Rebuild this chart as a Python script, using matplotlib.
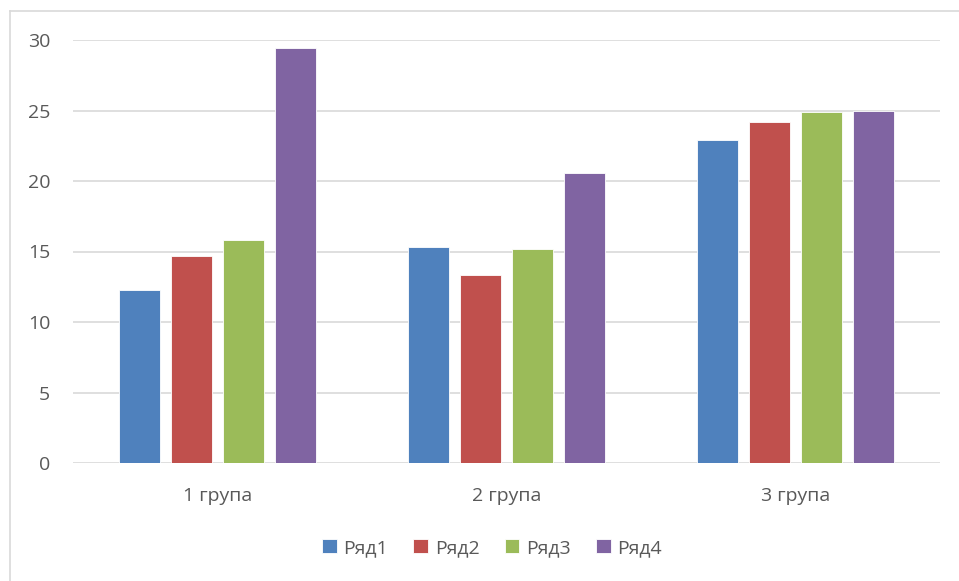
import numpy as np
import matplotlib.pyplot as plt
from matplotlib.lines import Line2D

# дані з діаграми
groups = ['1 група', '2 група', '3 група']
series = ['Ряд1', 'Ряд2', 'Ряд3', 'Ряд4']
vals_1 = [12.3, 15.3, 22.9]
vals_2 = [14.7, 13.3, 24.2]
vals_3 = [15.8, 15.2, 24.9]
vals_4 = [29.4, 20.6, 25.0]
colors = ['#4F81BD', '#C0504D', '#9BBB59', '#8064A2']

plt.rcParams['font.family'] = ['Open Sans', 'DejaVu Sans']
txt = '#595959'

fig = plt.figure(figsize=(9.59, 5.81), dpi=100)
ax = fig.add_axes([73 / 959, 1 - 463 / 581, 867 / 959, 423 / 581])

x = np.arange(len(groups))
bw = 0.142
step = 0.18
all_vals = [vals_1, vals_2, vals_3, vals_4]
for i, (name, v) in enumerate(zip(series, all_vals)):
    off = (i - 1.5) * step
    ax.bar(x + off, v, bw, color=colors[i], label=name,
           edgecolor='white', linewidth=0.6, zorder=3)

ax.set_xlim(-0.5, 2.5)
ax.set_ylim(0, 30)
ax.set_yticks(range(0, 31, 5))
ax.yaxis.grid(True, color='#D9D9D9', linewidth=1.2, zorder=0)
ax.set_xticks(x)
ax.set_xticklabels(groups)
for s in ax.spines.values():
    s.set_visible(False)
ax.tick_params(axis='both', length=0, colors=txt, labelsize=14)
ax.tick_params(axis='y', pad=16.5)
ax.tick_params(axis='x', pad=17)

# рамка діаграми
fig.add_artist(Line2D([9.5 / 959, 9.5 / 959], [0, 1 - 10.5 / 581],
                      color='#D9D9D9', linewidth=1.2))
fig.add_artist(Line2D([9.5 / 959, 1], [1 - 10.5 / 581, 1 - 10.5 / 581],
                      color='#D9D9D9', linewidth=1.2))

leg = fig.legend(loc='center', bbox_to_anchor=(492 / 959, 1 - 548 / 581), ncol=4,
                 frameon=False, fontsize=14, handlelength=0.75, handleheight=0.75,
                 handletextpad=0.35, columnspacing=1.3)
for t in leg.get_texts():
    t.set_color(txt)

fig.savefig('out.png', dpi=100)
